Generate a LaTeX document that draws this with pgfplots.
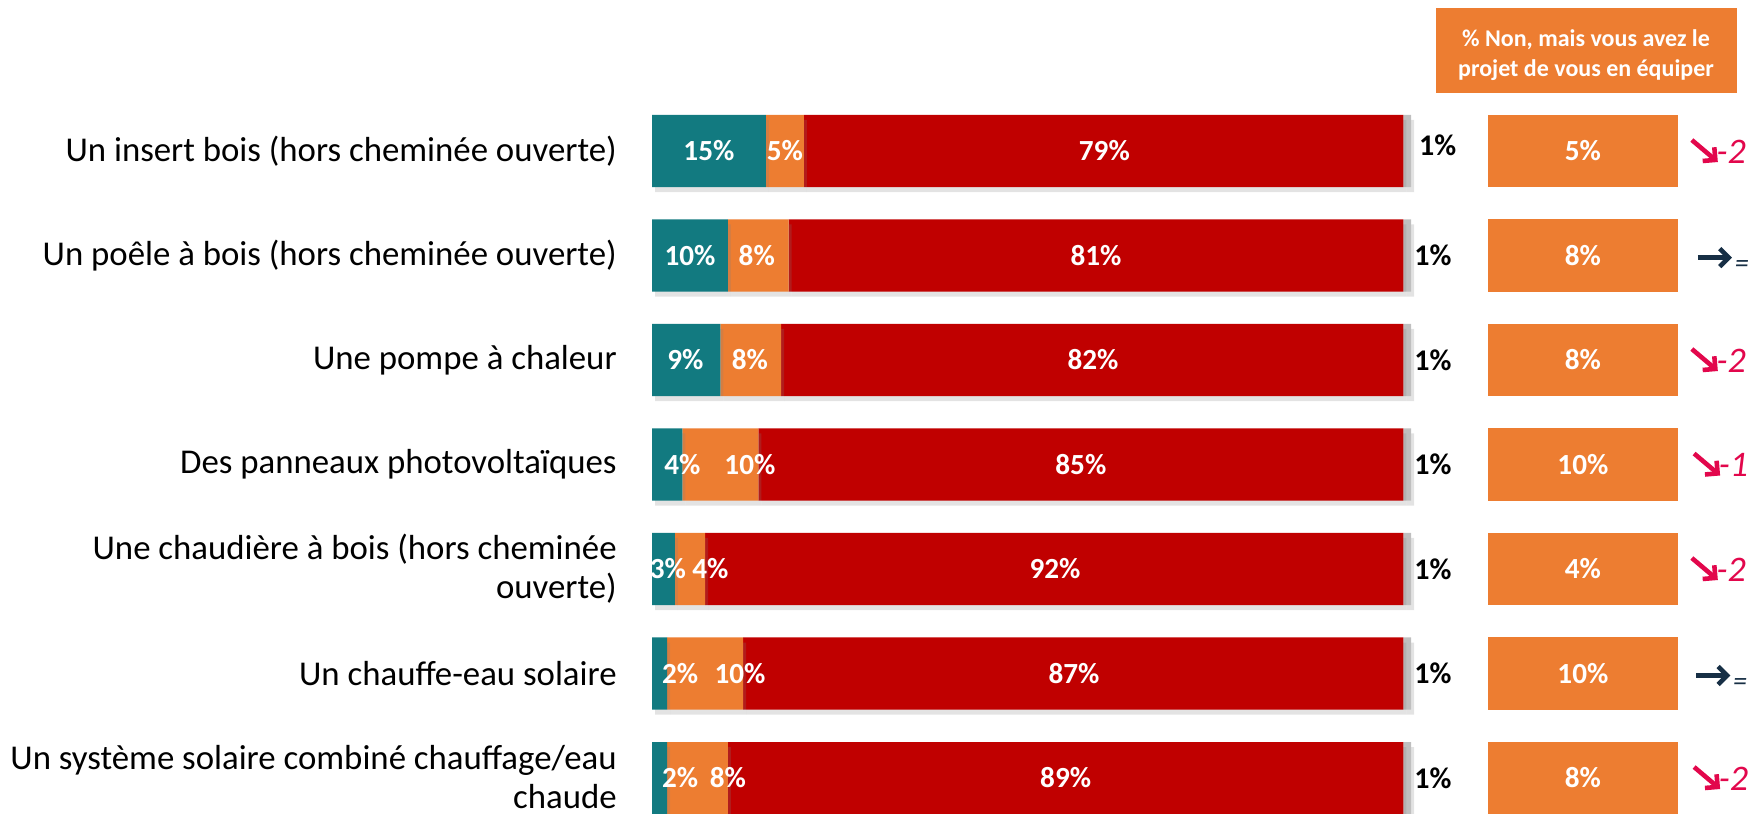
\documentclass[border=0pt]{standalone}
\usepackage{pgfplots}
\pgfplotsset{compat=1.18}
\usepackage{pgfplotstable}
\usepackage{fontspec}
\setmainfont{Carlito}
\usetikzlibrary{shadows,arrows.meta}
\definecolor{teal1}{HTML}{127A80}
\definecolor{orng}{HTML}{ED7D31}
\definecolor{red1}{HTML}{C00000}
\definecolor{gry}{HTML}{BFBFBF}
\definecolor{pink1}{HTML}{E2074C}
\definecolor{navy}{HTML}{172F45}

\tikzset{
  lbl/.style={text=white, font=\bfseries\fontsize{14.6}{16}\selectfont},
  cat/.style={anchor=east, align=right, inner sep=0pt, font=\fontsize{17.4}{19.5}\selectfont},
  nsp/.style={text=black, font=\bfseries\fontsize{15}{16}\selectfont},
  rbox/.style={fill=orng, minimum width=95pt, minimum height=36pt, inner sep=0pt,
    text=white, font=\bfseries\fontsize{14.6}{16}\selectfont},
  downarr/.style={pink1, line width=2.3pt, -{Straight Barb[length=4.5pt,width=9pt]}},
  samearr/.style={navy, line width=2.3pt, -{Straight Barb[length=4.5pt,width=9pt]}},
  evtxt/.style={anchor=base west, inner sep=0pt, text=pink1, font=\itshape\fontsize{18}{20}\selectfont},
  eqtxt/.style={anchor=west, inner sep=0pt, text=navy, font=\itshape\fontsize{14}{16}\selectfont},
}

\pgfplotsset{
  frame/.style={
    at={(326pt,357.125pt)}, anchor=north west,
    scale only axis, width=379.5pt, height=365.75pt,
    xmin=0, xmax=100, ymin=0.5, ymax=7.5, y dir=reverse,
    hide axis, clip=false,
  }
}

\pgfplotstableread{
row oui projet non nsp
1 15 5 79 1
2 10 8 81 1
3 9 8 82 1
4 4 10 85 1
5 3 4 92 1
6 2 10 87 1
7 2 8 89 1
}\data

\begin{document}
\begin{tikzpicture}
\useasboundingbox (0,0) rectangle (874pt,406.5pt);
\begin{axis}[frame,
  xbar stacked, bar width=36pt,
  every axis plot/.append style={draw=none,
    drop shadow={shadow xshift=1.5pt, shadow yshift=-2.5pt, opacity=0.22}},
]
\addplot[fill=teal1] table[x=oui,y=row]{\data};
\addplot[fill=orng] table[x=projet,y=row]{\data};
\addplot[fill=red1] table[x=non,y=row]{\data};
\addplot[fill=gry] table[x=nsp,y=row]{\data};
\end{axis}
\begin{axis}[frame]
% category labels
\node[cat] at (axis cs:-4.6,1) {Un insert bois (hors cheminée ouverte)};
\node[cat] at (axis cs:-4.6,2) {Un poêle à bois (hors cheminée ouverte)};
\node[cat] at (axis cs:-4.6,3) {Une pompe à chaleur};
\node[cat] at (axis cs:-4.6,4) {Des panneaux photovoltaïques};
\node[cat] at (axis cs:-4.6,5) {Une chaudière à bois (hors cheminée\\ouverte)};
\node[cat] at (axis cs:-4.6,6) {Un chauffe-eau solaire};
\node[cat] at (axis cs:-4.6,6.99) {Un système solaire combiné chauffage/eau\\chaude};

% bar labels
\node[lbl] at (axis cs:7.5,1) {15\%};
\node[lbl] at (axis cs:17.5,1) {5\%};
\node[lbl] at (axis cs:59.6,1) {79\%};
\node[lbl] at (axis cs:5,2) {10\%};
\node[lbl] at (axis cs:13.8,2) {8\%};
\node[lbl] at (axis cs:58.5,2) {81\%};
\node[lbl] at (axis cs:4.4,3) {9\%};
\node[lbl] at (axis cs:12.9,3) {8\%};
\node[lbl] at (axis cs:58.1,3) {82\%};
\node[lbl] at (axis cs:4.0,4) {4\%};
\node[lbl] at (axis cs:12.9,4) {10\%};
\node[lbl] at (axis cs:56.5,4) {85\%};
\node[lbl] at (axis cs:2.1,5) {3\%};
\node[lbl] at (axis cs:7.7,5) {4\%};
\node[lbl] at (axis cs:53.1,5) {92\%};
\node[lbl] at (axis cs:3.7,6) {2\%};
\node[lbl] at (axis cs:11.6,6) {10\%};
\node[lbl] at (axis cs:55.6,6) {87\%};
\node[lbl] at (axis cs:3.7,7) {2\%};
\node[lbl] at (axis cs:10.0,7) {8\%};
\node[lbl] at (axis cs:54.5,7) {89\%};

% NSP labels
\node[nsp] at (axis cs:103.5,0.95) {1\%};
\node[nsp] at (axis cs:102.9,2) {1\%};
\node[nsp] at (axis cs:102.9,3) {1\%};
\node[nsp] at (axis cs:102.9,4) {1\%};
\node[nsp] at (axis cs:102.9,5) {1\%};
\node[nsp] at (axis cs:102.9,6) {1\%};
\node[nsp] at (axis cs:102.9,7) {1\%};

% header
\node[fill=orng, minimum width=150.5pt, minimum height=42.5pt, inner sep=0pt,
  text=white, align=center, font=\bfseries\fontsize{12}{15}\selectfont]
  at (axis cs:123.06,0.038) {\rule{0pt}{13pt}\% Non, mais vous avez le\\projet de vous en équiper};

% right boxes
\node[rbox] at (axis cs:122.65,1) {5\%};
\node[rbox] at (axis cs:122.65,2) {8\%};
\node[rbox] at (axis cs:122.65,3) {8\%};
\node[rbox] at (axis cs:122.65,4) {10\%};
\node[rbox] at (axis cs:122.65,5) {4\%};
\node[rbox] at (axis cs:122.65,6) {10\%};
\node[rbox] at (axis cs:122.65,7) {8\%};

% evolution indicators
\draw[downarr] (axis cs:137.0,0.895) -- ++(13pt,-11pt);
\node[evtxt] at (axis cs:140.2,1.115) {-2};
\draw[samearr] (axis cs:137.8,2.02) -- ++(17pt,0pt);
\node[eqtxt] at (axis cs:142.6,2.11) {=};
\draw[downarr] (axis cs:137.0,2.895) -- ++(13pt,-11pt);
\node[evtxt] at (axis cs:140.2,3.115) {-2};
\draw[downarr] (axis cs:137.3,3.895) -- ++(13pt,-11pt);
\node[evtxt] at (axis cs:140.5,4.115) {-1};
\draw[downarr] (axis cs:137.0,4.895) -- ++(13pt,-11pt);
\node[evtxt] at (axis cs:140.2,5.115) {-2};
\draw[samearr] (axis cs:137.6,6.02) -- ++(17pt,0pt);
\node[eqtxt] at (axis cs:142.4,6.11) {=};
\draw[downarr] (axis cs:137.3,6.895) -- ++(13pt,-11pt);
\node[evtxt] at (axis cs:140.5,7.115) {-2};
\end{axis}
\end{tikzpicture}
\end{document}
